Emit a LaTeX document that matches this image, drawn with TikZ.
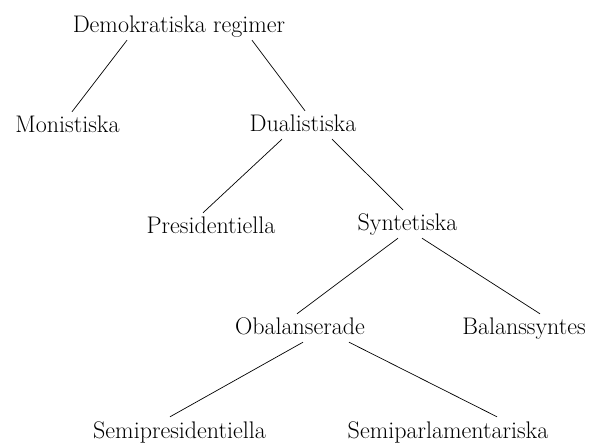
\documentclass[tikz,border=0pt]{standalone}
\usepackage{tikz}

\begin{document}
\begin{tikzpicture}[x=1pt, y=-1pt, % y runs downwards, like the page
  lbl/.style={anchor=base, inner xsep=0pt, inner ysep=2pt, text height=19pt, text depth=5pt, font=\fontsize{24}{28}\selectfont}]
  \useasboundingbox (0,0) rectangle (592,446);

  \node[lbl] (D) at (179,33) {Demokratiska regimer};
  \node[lbl] (M) at (67.5,133) {Monistiska};
  \node[lbl] (U) at (303,132) {Dualistiska};
  \node[lbl] (P) at (211,234) {Presidentiella};
  \node[lbl] (S) at (407.5,231) {Syntetiska};
  \node[lbl] (O) at (300,335) {Obalanserade};
  \node[lbl] (B) at (524,335) {Balanssyntes};
  \node[lbl] (SP) at (179.5,438) {Semipresidentiella};
  \node[lbl] (SA) at (448,438) {Semiparlamentariska};

  \path [line width=0.7pt] ([xshift=-52pt]D.south) edge ([xshift=4.5pt]M.north);
  \path [line width=0.7pt] ([xshift=73pt]D.south) edge ([xshift=2pt]U.north);
  \path [line width=0.7pt] ([xshift=-21pt]U.south) edge ([xshift=-8pt]P.north);
  \path [line width=0.7pt] ([xshift=29pt]U.south) edge ([xshift=-4.5pt]S.north);
  \path [line width=0.7pt] ([xshift=-9.5pt]S.south) edge ([xshift=-3pt]O.north);
  \path [line width=0.7pt] ([xshift=14.5pt]S.south) edge ([xshift=16pt]B.north);
  \path [line width=0.7pt] ([xshift=3pt]O.south) edge ([xshift=-9.5pt]SP.north);
  \path [line width=0.7pt] ([xshift=49pt]O.south) edge ([xshift=49pt]SA.north);
\end{tikzpicture}
\end{document}
